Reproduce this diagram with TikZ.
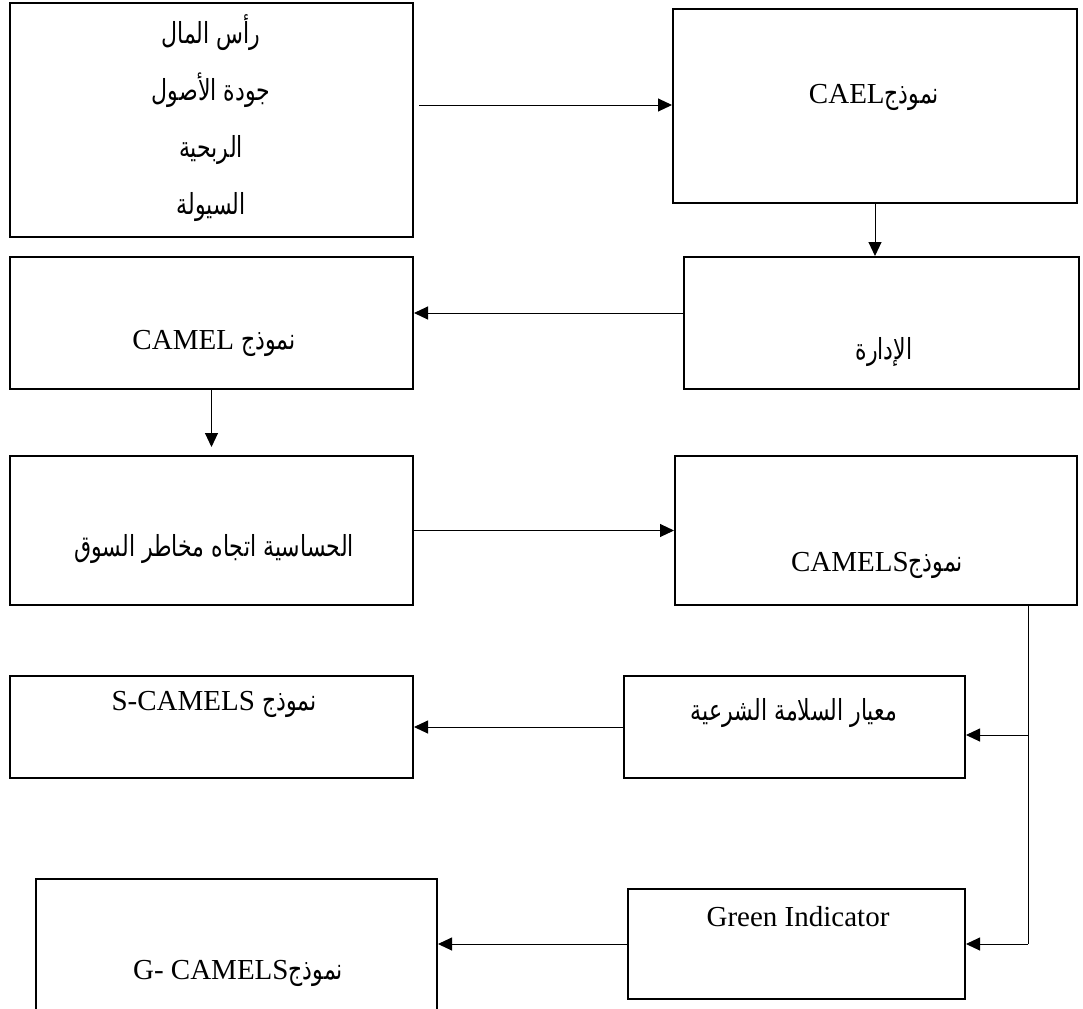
\documentclass[tikz,border=0pt]{standalone}
\usepackage{fontspec}
\setmainfont{Liberation Serif}
\newfontfamily\arabicfont[Script=Arabic, FakeStretch=0.76]{DejaVu Sans}
\TeXXeTstate=1
\usetikzlibrary{arrows.meta, positioning}

\newcommand{\arb}[1]{{\arabicfont\beginR #1\endR}}

\begin{document}
\begin{tikzpicture}[
  x=0.5pt, y=-0.5pt,
  every node/.style = {font=\fontsize{14.5}{17}\selectfont},
  box/.style 2 args = {rectangle, draw=black, line width=1pt,
                       inner sep=0pt,
                       minimum width=#1*0.5pt, minimum height=#2*0.5pt},
  txt/.style = {inner sep=0pt, align=center},
  arr/.style = {-{Triangle[length=7pt, width=6.5pt]}, line width=0.5pt},
]
\useasboundingbox (0,0) rectangle (1083,1008);

%% ── Row 1 ────────────────────────────────────────────────────────────────
\node[box={403}{234}] (capital) at (211.5,120) {};
\node[txt, font=\fontsize{14.5}{28.5}\selectfont] (capital-txt) at (211,118) {
  \arb{رأس المال}\\
  \arb{جودة الأصول}\\
  \arb{الربحية}\\
  \arb{السيولة}
};
\node[box={404}{194}] (cael) at (875,106) {};
\node[txt] (cael-txt) at (874,97)
  {\beginR{\arabicfont نموذج}\beginL CAEL\endL\endR};

%% ── Row 2 ────────────────────────────────────────────────────────────────
\node[box={403}{132}] (camel) at (211.5,323) {};
\node[txt] (camel-txt) at (214,343)
  {\beginR{\arabicfont نموذج} \beginL CAMEL\endL\endR};
\node[box={395}{132}] (mgmt) at (881.5,323) {};
\node[txt] (mgmt-txt) at (884,352) {\arb{الإدارة}};

%% ── Row 3 ────────────────────────────────────────────────────────────────
\node[box={403}{149}] (sens) at (211.5,530.5) {};
\node[txt] (sens-txt) at (214,549) {\arb{الحساسية اتجاه مخاطر  السوق}};
\node[box={402}{149}] (camels) at (876,530.5) {};
\node[txt] (camels-txt) at (877,565)
  {\beginR{\arabicfont نموذج}\beginL CAMELS\endL\endR};

%% ── Row 4 ────────────────────────────────────────────────────────────────
\node[box={403}{102}] (scamels) at (211.5,727) {};
\node[txt] (scamels-txt) at (214,704)
  {\beginR{\arabicfont نموذج} \beginL S-CAMELS\endL\endR};
\node[box={341}{102}] (sharia) at (794.5,727) {};
\node[txt] (sharia-txt) at (794,713) {\arb{معيار السلامة الشرعية}};

%% ── Row 5 ────────────────────────────────────────────────────────────────
\node[box={401}{142}] (gcamels) at (236.5,950) {};
\node[txt] (gcamels-txt) at (238,973)
  {\beginR{\arabicfont نموذج}\beginL G- CAMELS\endL\endR};
\node[box={337}{110}] (green) at (796.5,944) {};
\node[txt] (green-txt) at (798,917) {Green Indicator};

%% ── Arrows ───────────────────────────────────────────────────────────────
\coordinate (a1) at ([shift={(5,-15)}]capital.east);
\draw[arr] (a1) -- (a1 -| cael.west);
\draw[arr] (cael.south) -- (cael.south |- mgmt.north);
\coordinate (a3) at ([shift={(0,-10)}]mgmt.west);
\draw[arr] (a3) -- (a3 -| camel.east);
\draw[arr, shorten >=4pt] (camel.south) -- (camel.south |- sens.north);
\draw[arr] (sens.east) -- (sens.east -| camels.west);

%% ── Split to the two extensions ─────────────────────────────────────────
\coordinate (top) at ([shift={(152,0)}]camels.south);
\coordinate (bend) at (top |- green.east);
\coordinate (sharia-in) at ([shift={(0,8)}]sharia.east);
\draw[line width=0.5pt] (top) -- (bend);
\draw[arr] (top |- sharia-in) -- (sharia-in);
\draw[arr] (bend) -- (green.east);
\draw[arr] (sharia.west) -- (sharia.west -| scamels.east);
\draw[arr] (green.west) -- (green.west -| gcamels.east);

\end{tikzpicture}
\end{document}
